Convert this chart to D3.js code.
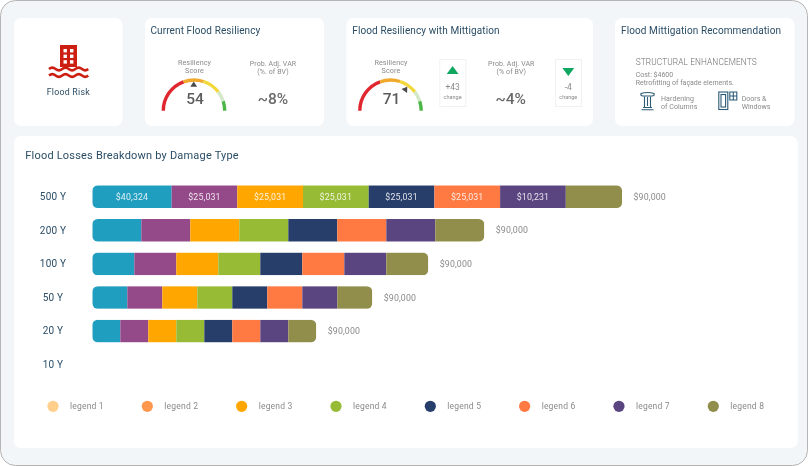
<!DOCTYPE html>
<html>
<head>
<meta charset="utf-8">
<script src="https://cdn.jsdelivr.net/npm/d3@7.9.0/dist/d3.min.js"></script>
<style>
  body { margin: 0; background: #fff; }
  svg { display: block; font-family: Roboto, sans-serif; filter: blur(0.3px); }
</style>
</head>
<body>
<svg id="chart" width="808" height="466"></svg>
<script>
const returnPeriods = ['500 Y', '200 Y', '100 Y', '50 Y', '20 Y', '10 Y'];
const legendNames = ['legend 1', 'legend 2', 'legend 3', 'legend 4', 'legend 5', 'legend 6', 'legend 7', 'legend 8'];
const legendColors = ['#ffcf8b', '#ff974d', '#ffa600', '#97bb34', '#273e6b', '#ff7942', '#5a4580', '#918d4a'];
const barColors = ['#209ebf', '#944a89', '#ffa600', '#97bb34', '#273e6b', '#ff7942', '#5a4580', '#918d4a'];

// bar lengths as drawn (they don't follow the printed dollar labels)
const damage1 = [7.93, 4.9, 4.2, 3.5, 2.8, 0];
const damage2 = [6.57, 4.9, 4.2, 3.5, 2.8, 0];
const damage3 = [6.57, 4.9, 4.2, 3.5, 2.8, 0];
const damage4 = [6.57, 4.9, 4.2, 3.5, 2.8, 0];
const damage5 = [6.57, 4.9, 4.2, 3.5, 2.8, 0];
const damage6 = [6.57, 4.9, 4.2, 3.5, 2.8, 0];
const damage7 = [6.57, 4.9, 4.2, 3.5, 2.8, 0];
const damage8 = [5.63, 4.9, 4.2, 3.5, 2.8, 0];
const damageSeries = [damage1, damage2, damage3, damage4, damage5, damage6, damage7, damage8];

const segmentLabels = ['$40,324', '$25,031', '$25,031', '$25,031', '$25,031', '$25,031', '$10,231', ''];
const totalLabels = ['$90,000', '$90,000', '$90,000', '$90,000', '$90,000', ''];

const currentScore = 54;
const mitigatedScore = 71;
const gaugeBreaks = [0, 39, 60, 79, 90, 100];
const gaugeColors = ['#e0262e', '#f0a92c', '#f3d83c', '#d3e8c6', '#4cb648'];

const svg = d3.select('#chart');
const navy = '#2a4d66';
const grey = '#8a8a8a';

// frame and cards
svg.append('rect').attr('x', 0.5).attr('y', 0.5).attr('width', 807).attr('height', 465)
  .attr('rx', 15).attr('fill', '#f3f6f8').attr('stroke', '#b5b5b5');

const cards = [[14, 18, 108.5, 108], [145, 18, 179, 108], [346.5, 18, 246.5, 108], [615, 18, 179.5, 108], [14, 136, 783.7, 312]];
svg.selectAll('.card').data(cards).join('rect')
  .attr('class', 'card')
  .attr('x', d => d[0]).attr('y', d => d[1])
  .attr('width', d => d[2]).attr('height', d => d[3])
  .attr('rx', 7).attr('fill', '#fff');

function label(x, y, str, size, color, anchor, weight, spacing) {
  return svg.append('text')
    .attr('x', x).attr('y', y)
    .attr('dy', '0.35em')
    .attr('font-size', size)
    .attr('fill', color)
    .attr('text-anchor', anchor || 'start')
    .attr('font-weight', weight || 400)
    .attr('letter-spacing', spacing || 0)
    .text(str);
}

label(150.5, 30, 'Current Flood Resiliency', 10, navy, 'start', 400, 0.1);
label(352.3, 30, 'Flood Resiliency with Mittigation', 10, navy, 'start', 400, 0.1);
label(621, 30, 'Flood Mittigation Recommendation', 10, navy, 'start', 400, 0.1);
label(25.3, 155.6, 'Flood Losses Breakdown by Damage Type', 11, navy, 'start', 400, 0.2);

// flood risk icon
const icon = svg.append('g');
icon.append('rect').attr('x', 60).attr('y', 45).attr('width', 17).attr('height', 22).attr('fill', '#cc1f12');
d3.range(3).forEach(r => d3.range(2).forEach(c => {
  icon.append('rect').attr('x', 63.5 + c * 6.5).attr('y', 49 + r * 5.6)
    .attr('width', 3.4).attr('height', 3.4).attr('fill', '#fff');
}));
[69, 75.5].forEach(y => {
  icon.append('path')
    .attr('d', `M49 ${y} q3.3 -2.6 6.6 0 t6.6 0 t6.6 0 t6.6 0 t6.6 0 t6.2 0`)
    .attr('fill', 'none').attr('stroke', '#cc1f12').attr('stroke-width', 2.6);
});
label(68.3, 92.3, 'Flood Risk', 8.8, '#2b4c63', 'middle', 400, 0.25);

// gauges
const gaugeAngle = d3.scaleLinear().domain([0, 100]).range([-Math.PI / 2, Math.PI / 2]);
const needleAngle = d3.scaleLinear().domain([0, 100]).range([-114, 96]);
const gaugeArc = d3.arc().innerRadius(29).outerRadius(32.4);

function drawGauge(cx, score) {
  const g = svg.append('g').attr('transform', `translate(${cx},110.7)`);
  g.selectAll('path').data(gaugeColors).join('path')
    .attr('fill', d => d)
    .attr('d', (d, i) => gaugeArc({
      startAngle: gaugeAngle(gaugeBreaks[i]),
      endAngle: gaugeAngle(gaugeBreaks[i + 1])
    }));
  g.append('path')
    .attr('d', 'M0 -3.2 L3.4 2 L-3.4 2 Z')
    .attr('fill', '#4a4a4a')
    .attr('transform', `rotate(${needleAngle(score)}) translate(0,-26)`);
  label(cx + 1, 99, score, 15.5, '#5c5c5c', 'middle', 500);
  label(cx + 0.5, 62.5, 'Resiliency', 7.2, grey, 'middle', 400, 0.1);
  label(cx + 0.5, 70.7, 'Score', 7.2, grey, 'middle', 400, 0.1);
}
drawGauge(194, currentScore);
drawGauge(390.5, mitigatedScore);

label(273, 63.3, 'Prob. Adj. VAR', 7, grey, 'middle', 400, 0.1);
label(273, 71.7, '(%. of BV)', 7, grey, 'middle', 400, 0.1);
label(273, 99, '~8%', 15.5, '#6a6a6a', 'middle', 500);
label(511.3, 63.3, 'Prob. Adj. VAR', 7, grey, 'middle', 400, 0.1);
label(511.3, 71.7, '(% of BV)', 7, grey, 'middle', 400, 0.1);
label(510.7, 99, '~4%', 15.5, '#6a6a6a', 'middle', 500);

// change boxes
function changeBox(x, up, str) {
  svg.append('rect').attr('x', x + 0.5).attr('y', 59.5).attr('width', 26).attr('height', 47)
    .attr('fill', '#fff').attr('stroke', '#f1f1f1');
  const cx = x + 13.3;
  svg.append('path')
    .attr('d', up ? `M${cx} 66 l5.9 8 h-11.8 Z` : `M${cx} 76 l5.9 -8 h-11.8 Z`)
    .attr('fill', '#10a860');
  label(cx, 86.7, str, 8.5, grey, 'middle');
  label(cx, 96.7, 'change', 5.5, grey, 'middle');
}
changeBox(439.3, true, '+43');
changeBox(555, false, '-4');

// recommendation card
label(635.7, 62.3, 'STRUCTURAL ENHANCEMENTS', 8.3, '#6e6e6e', 'start', 300, 0.12);
label(635.7, 74.3, 'Cost: $4600', 7, grey);
label(635.7, 82.7, 'Retrofitting of façade elements.', 7, grey);
label(661, 99, 'Hardening', 7, grey, 'start', 400, 0.1);
label(661, 107, 'of Columns', 7, grey, 'start', 400, 0.05);
label(741.7, 99, 'Doors &', 7, grey);
label(741.7, 107, 'Windows', 7, grey);

const iconLine = { fill: 'none', stroke: '#2b5a75', 'stroke-width': 1.1 };
const columnIcon = svg.append('g').attr('fill', iconLine.fill).attr('stroke', iconLine.stroke).attr('stroke-width', iconLine['stroke-width']);
columnIcon.append('path').attr('d', 'M641 93.5 q6.5 -2 13 0 q0.8 2.5 -2 2.5 h-9 q-2.8 0 -2 -2.5 Z');
columnIcon.append('path').attr('d', 'M644.5 96.5 V107 M650.5 96.5 V107 M647.5 97 V106');
columnIcon.append('path').attr('d', 'M643 107.5 h9 M641.5 109.7 h12');
const doorIcon = svg.append('g').attr('fill', iconLine.fill).attr('stroke', iconLine.stroke).attr('stroke-width', iconLine['stroke-width']);
doorIcon.append('rect').attr('x', 718.8).attr('y', 92).attr('width', 9).attr('height', 17.5);
doorIcon.append('rect').attr('x', 721).attr('y', 94.5).attr('width', 4.6).attr('height', 12.5);
doorIcon.append('path').attr('d', 'M729.8 92 h7 v8 h-7 Z M733.3 92 v8 M729.8 96 h7');

// stacked bars
const rows = returnPeriods.map((p, i) => {
  const row = { period: p };
  damageSeries.forEach((s, k) => { row[legendNames[k]] = s[i]; });
  return row;
});
const series = d3.stack().keys(legendNames)(rows);

const x = d3.scaleLinear().domain([0, 53]).range([92.3, 622.3]);
const y = d3.scaleBand().domain(returnPeriods).range([179.9, 381.5]).paddingInner(0.325).paddingOuter(0.1625);

const yAxis = svg.append('g')
  .attr('transform', 'translate(53,0)')
  .call(d3.axisLeft(y).tickSize(0).tickPadding(0));
yAxis.select('.domain').remove();
yAxis.selectAll('text')
  .attr('text-anchor', 'middle')
  .attr('font-family', 'Roboto, sans-serif')
  .attr('font-size', 10)
  .attr('letter-spacing', 0.2)
  .attr('fill', navy);

const defs = svg.append('defs');
rows.forEach((row, i) => {
  defs.append('clipPath').attr('id', `row-${i}`)
    .append('rect')
    .attr('x', x(0)).attr('y', y(row.period))
    .attr('width', x(d3.sum(legendNames, k => row[k])) - x(0))
    .attr('height', y.bandwidth())
    .attr('rx', 5.5);
});

const bars = svg.append('g');
rows.forEach((row, i) => {
  const rowG = bars.append('g').attr('clip-path', `url(#row-${i})`);
  series.forEach((s, k) => {
    rowG.append('rect')
      .attr('x', x(s[i][0]))
      .attr('y', y(row.period))
      .attr('width', x(s[i][1]) - x(s[i][0]))
      .attr('height', y.bandwidth())
      .attr('fill', barColors[k]);
  });
});

series.forEach((s, k) => {
  if (!segmentLabels[k]) return;
  label((x(s[0][0]) + x(s[0][1])) / 2, y(returnPeriods[0]) + y.bandwidth() / 2, segmentLabels[k], 8.8, '#fff', 'middle', 400, 0.15)
    .attr('fill-opacity', 0.85);
});

rows.forEach((row, i) => {
  if (!totalLabels[i]) return;
  const total = d3.sum(legendNames, k => row[k]);
  label(x(total) + 11.4, y(row.period) + y.bandwidth() / 2, totalLabels[i], 8.8, grey, 'start', 400, 0.15);
});

// legend
const legendX = d3.scalePoint().domain(legendNames).range([53, 713.3]);
legendNames.forEach((name, i) => {
  svg.append('circle').attr('cx', legendX(name)).attr('cy', 406.3).attr('r', 5.6).attr('fill', legendColors[i]);
  label(legendX(name) + 17, 405.6, name, 8.5, grey, 'start', 400, 0.2);
});
</script>
</body>
</html>
